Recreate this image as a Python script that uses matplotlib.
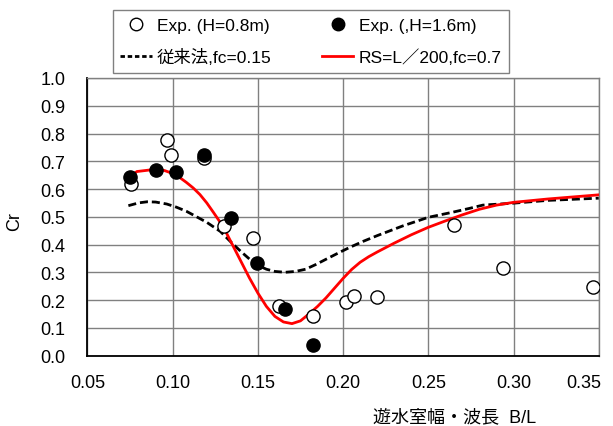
import matplotlib
matplotlib.use("Agg")
from matplotlib import pyplot as plt
from matplotlib.lines import Line2D
from matplotlib.transforms import ScaledTranslation

plt.rcParams['font.family'] = ['Liberation Sans', 'Noto Sans CJK JP', 'DejaVu Sans']

# Mesures (H=0.8m) : cercles blancs
exp08_x = [0.0758, 0.0968, 0.0992, 0.1185, 0.1300, 0.1470, 0.1626, 0.1825,
           0.2016, 0.2063, 0.2200, 0.2653, 0.2941, 0.3464]
exp08_y = [0.619, 0.778, 0.724, 0.713, 0.465, 0.425, 0.180, 0.142,
           0.192, 0.216, 0.212, 0.472, 0.316, 0.246]

# Mesures (H=1.6m) : cercles noirs
exp16_x = [0.0748, 0.0904, 0.1021, 0.1185, 0.1341, 0.1494, 0.1660, 0.1825]
exp16_y = [0.642, 0.670, 0.661, 0.724, 0.496, 0.334, 0.169, 0.037]

# Courbe méthode conventionnelle (fc=0.15)
conv_x = [0.074, 0.080, 0.085, 0.090, 0.0965, 0.102, 0.108, 0.114, 0.120, 0.128,
          0.134, 0.140, 0.145, 0.150, 0.155, 0.160, 0.166, 0.172, 0.178, 0.184,
          0.190, 0.198, 0.204, 0.212, 0.220, 0.235, 0.250, 0.264, 0.274, 0.282,
          0.300, 0.320, 0.350]
conv_y = [0.540, 0.550, 0.554, 0.553, 0.546, 0.535, 0.520, 0.500, 0.480, 0.447,
          0.410, 0.375, 0.348, 0.325, 0.311, 0.303, 0.300, 0.303, 0.311, 0.328,
          0.347, 0.372, 0.390, 0.412, 0.432, 0.467, 0.498, 0.516, 0.530, 0.542,
          0.549, 0.559, 0.567]

# Courbe RS=L/200 (fc=0.7)
rs_x = [0.075, 0.079, 0.0885, 0.095, 0.100, 0.104, 0.108, 0.112, 0.116, 0.120,
        0.124, 0.127, 0.130, 0.135, 0.140, 0.145, 0.150, 0.155, 0.160, 0.165,
        0.170, 0.175, 0.180, 0.185, 0.190, 0.195, 0.200, 0.205, 0.210, 0.215,
        0.220, 0.230, 0.240, 0.250, 0.260, 0.270, 0.280, 0.290, 0.300, 0.320,
        0.350]
rs_y = [0.645, 0.663, 0.670, 0.667, 0.656, 0.642, 0.624, 0.604, 0.580, 0.550,
        0.515, 0.488, 0.460, 0.400, 0.340, 0.280, 0.225, 0.177, 0.141, 0.121,
        0.115, 0.125, 0.150, 0.177, 0.208, 0.243, 0.278, 0.310, 0.336, 0.356,
        0.373, 0.405, 0.435, 0.462, 0.485, 0.507, 0.527, 0.542, 0.552, 0.564,
        0.579]

x_ticks = [0.05, 0.10, 0.15, 0.20, 0.25, 0.30, 0.35]
y_ticks = [0.0, 0.1, 0.2, 0.3, 0.4, 0.5, 0.6, 0.7, 0.8, 0.9, 1.0]

fig = plt.figure(figsize=(6.13, 4.27), dpi=100)
ax = fig.add_axes([0.1427, 0.165, 0.834, 0.650])

ax.plot(conv_x, conv_y, color="black", lw=2, dashes=(2.9, 1.4), zorder=3)
ax.plot(rs_x, rs_y, color="red", lw=2, zorder=4)
ax.plot(exp08_x, exp08_y, "o", ms=9.5, mfc="white", mec="black", mew=1, zorder=5)
ax.plot(exp16_x, exp16_y, "o", ms=9.5, mfc="black", mec="black", mew=1, zorder=6)

ax.set_xlim(0.05, 0.35)
ax.set_ylim(0.0, 1.0)
ax.set_xticks(x_ticks)
ax.set_xticklabels(["%.2f" % v for v in x_ticks])
ax.set_yticks(y_ticks)
ax.set_yticklabels(["%.1f" % v for v in y_ticks])
ax.tick_params(axis="both", length=0, labelsize=13)
ax.tick_params(axis="x", pad=13)
ax.tick_params(axis="y", pad=16)
ax.grid(True, color="#808080", lw=1)
ax.set_axisbelow(True)
for side in ["left", "bottom"]:
    ax.spines[side].set_color("black")
    ax.spines[side].set_linewidth(1.3)
for side in ["top", "right"]:
    ax.spines[side].set_color("#808080")
    ax.spines[side].set_linewidth(1)

# le dernier label (0.35) est décalé pour rester dans la figure
last = ax.get_xticklabels()[-1]
last.set_horizontalalignment("right")
last.set_transform(last.get_transform() + ScaledTranslation(3 / 100, 0, fig.dpi_scale_trans))

fig.text(15 / 613, 1 - 222 / 427, "Cr", rotation=90, ha="center", va="center", fontsize=13)
fig.text(455 / 613, 1 - 418 / 427, "遊水室幅・波長  B/L", ha="center", va="center", fontsize=13)

# Légende au-dessus du graphe
handles = [
    Line2D([], [], ls="none", marker="o", ms=9, mfc="white", mec="black"),
    Line2D([], [], color="black", lw=2, dashes=(1.6, 1.0)),
    Line2D([], [], ls="none", marker="o", ms=9, mfc="black", mec="black"),
    Line2D([], [], color="red", lw=2),
]
labels = ["Exp. (H=0.8m)", "従来法,fc=0.15", "Exp. (,H=1.6m)", "RS=L／200,fc=0.7"]
leg = fig.legend(handles, labels, ncol=2, loc="center",
                 bbox_to_anchor=(311 / 613, 1 - 42.5 / 427), fontsize=12.5,
                 frameon=True, fancybox=False, edgecolor="#606060",
                 handlelength=1.8, handletextpad=0.3, columnspacing=2.9,
                 labelspacing=0.85, borderpad=0.45, numpoints=1)
leg.get_frame().set_linewidth(1)

fig.savefig("out.png", dpi=100)
